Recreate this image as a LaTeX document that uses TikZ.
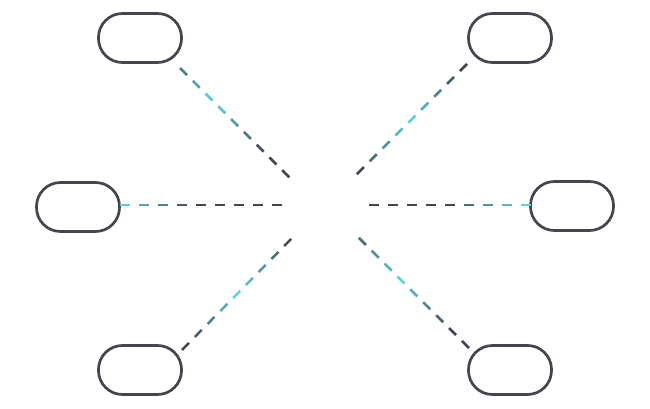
\documentclass[tikz,border=0pt]{standalone}
\usetikzlibrary{calc}
\definecolor{cyanc}{HTML}{5ED8E0}
\definecolor{darkc}{HTML}{45454F}
\definecolor{pillc}{HTML}{46444F}
\tikzset{pill/.style={draw=pillc,line width=2.7pt,rounded corners=24pt,minimum width=83pt,minimum height=49pt,inner sep=0pt}}
\newcommand\gline[3]{%
 \foreach \k in {0,...,8}{%
  \pgfmathsetmacro\ta{\k/9}\pgfmathsetmacro\tb{(\k+0.55)/9}%
  \pgfmathsetmacro\w{max(0,100-abs((\k+0.3)/9-#3)*230)}%
  \colorlet{dc}{cyanc!\w!darkc}%
  \draw[dc,line width=2.5pt] ($(#1)!\ta!(#2)$) -- ($(#1)!\tb!(#2)$);}}
\begin{document}
\begin{tikzpicture}[x=1pt,y=-1pt]
\useasboundingbox (0,0) rectangle (650,409);
\node[pill] (tl) at (140,38) {};
\node[pill] (ml) at (78,207) {};
\node[pill] (bl) at (140,370) {};
\node[pill] (tr) at (510,38) {};
\node[pill] (mr) at (572,206) {};
\node[pill] (br) at (510,370) {};
\coordinate (ctl) at (295,183);
\coordinate (cml) at (291,205);
\coordinate (cbl) at (297,233);
\coordinate (ctr) at (351,180);
\coordinate (cmr) at (360,205);
\coordinate (cbr) at (353,232);
\gline{180,68}{ctl}{0.3}
\gline{120,205}{cml}{0}
\gline{182,350}{cbl}{0.5}
\gline{467,64}{ctr}{0.5}
\gline{531,205}{cmr}{0.05}
\gline{469,348}{cbr}{0.6}
\end{tikzpicture}
\end{document}
